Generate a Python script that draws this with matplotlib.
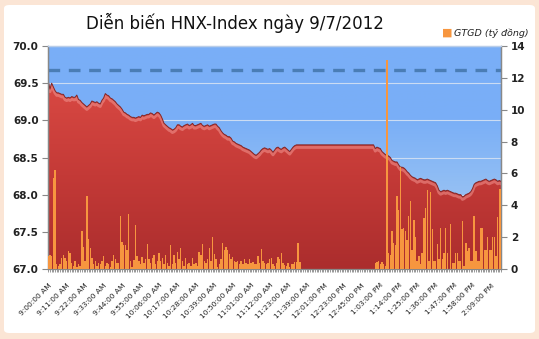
import numpy as np
import matplotlib
matplotlib.use('Agg')
import matplotlib.pyplot as plt
from matplotlib.patches import FancyBboxPatch, Polygon
from matplotlib.colors import LinearSegmentedColormap

# HNX-Index, one value per time slot (lunch break is flat)
index_vals = [
    69.52, 69.42, 69.50, 69.45, 69.40, 69.37, 69.37, 69.36, 69.35, 69.35,
    69.31, 69.30, 69.31, 69.30, 69.32, 69.31, 69.31, 69.34, 69.28, 69.27,
    69.24, 69.22, 69.20, 69.18, 69.20, 69.22, 69.26, 69.25, 69.24, 69.25,
    69.23, 69.22, 69.27, 69.30, 69.36, 69.34, 69.33, 69.30, 69.29, 69.27,
    69.25, 69.22, 69.20, 69.18, 69.15, 69.11, 69.10, 69.08, 69.07, 69.05,
    69.04, 69.04, 69.03, 69.04, 69.05, 69.04, 69.07, 69.06, 69.07, 69.08,
    69.08, 69.10, 69.09, 69.07, 69.09, 69.11, 69.10, 69.07, 69.02, 68.96,
    68.94, 68.92, 68.90, 68.89, 68.87, 68.88, 68.90, 68.94, 68.94, 68.92,
    68.91, 68.93, 68.94, 68.95, 68.93, 68.94, 68.96, 68.93, 68.93, 68.94,
    68.95, 68.96, 68.93, 68.92, 68.93, 68.94, 68.92, 68.93, 68.94, 68.95,
    68.95, 68.92, 68.90, 68.86, 68.83, 68.81, 68.80, 68.78, 68.78, 68.76,
    68.72, 68.71, 68.69, 68.68, 68.67, 68.66, 68.64, 68.63, 68.62, 68.61,
    68.60, 68.58, 68.56, 68.54, 68.53, 68.55, 68.57, 68.60, 68.62, 68.63,
    68.62, 68.61, 68.62, 68.60, 68.57, 68.60, 68.63, 68.64, 68.62, 68.61,
    68.63, 68.64, 68.62, 68.60, 68.58, 68.61, 68.64, 68.66, 68.67, 68.67,
    68.67, 68.67, 68.67, 68.67, 68.67, 68.67, 68.67, 68.67, 68.67, 68.67,
    68.67, 68.67, 68.67, 68.67, 68.67, 68.67, 68.67, 68.67, 68.67, 68.67,
    68.67, 68.67, 68.67, 68.67, 68.67, 68.67, 68.67, 68.67, 68.67, 68.67,
    68.67, 68.67, 68.67, 68.67, 68.67, 68.67, 68.67, 68.67, 68.67, 68.67,
    68.67, 68.67, 68.67, 68.67, 68.67,
    68.62, 68.64, 68.63, 68.62, 68.58, 68.56, 68.54, 68.53, 68.52, 68.50,
    68.46, 68.45, 68.44, 68.44, 68.40, 68.37, 68.37, 68.36, 68.34, 68.31,
    68.29, 68.26, 68.24, 68.23, 68.22, 68.20, 68.21, 68.22, 68.21, 68.20,
    68.20, 68.21, 68.20, 68.19, 68.18, 68.17, 68.16, 68.12, 68.06, 68.04,
    68.05, 68.06, 68.05, 68.06, 68.05, 68.04, 68.03, 68.02, 68.02, 68.01,
    68.00, 68.00, 67.97, 67.98, 68.00, 68.01, 68.02, 68.04, 68.08, 68.14,
    68.16, 68.17, 68.18, 68.18, 68.19, 68.20, 68.21, 68.19, 68.18, 68.19,
    68.20, 68.21, 68.20, 68.18, 68.19, 68.18,
]

# GTGD (ty dong) per time slot
volume = [
    0.8, 0.85, 0.8, 5.7, 6.2, 0.3, 0.2, 0.3, 0.7, 0.9,
    0.7, 0.5, 1.1, 1.0, 0.4, 0.2, 0.5, 0.1, 0.3, 0.2,
    2.4, 1.35, 0.5, 4.6, 1.9, 1.3, 0.7, 0.3, 0.5, 0.2,
    0.4, 0.3, 0.5, 0.8, 0.2, 0.4, 0.3, 0.15, 0.5, 0.9,
    0.6, 0.4, 0.4, 3.3, 1.7, 1.5, 1.5, 1.2, 3.45, 0.5,
    0.1, 0.55, 2.75, 0.8, 0.5, 0.3, 0.75, 0.4, 0.6, 1.6,
    0.6, 0.4, 0.7, 0.9, 0.3, 0.5, 1.0, 0.5, 0.7, 0.3,
    0.9, 0.4, 0.2, 1.5, 0.3, 0.9, 0.4, 1.05, 0.6, 1.3,
    0.5, 0.2, 0.7, 0.3, 0.4, 0.2, 0.7, 0.3, 0.4, 0.2,
    1.05, 0.9, 1.6, 0.5, 0.4, 0.6, 1.3, 0.5, 2.0, 0.95,
    0.6, 0.1, 0.3, 0.6, 1.65, 1.2, 1.4, 1.2, 0.95, 0.6,
    0.75, 0.5, 0.45, 0.5, 0.3, 0.5, 0.3, 0.65, 0.4, 0.3,
    0.65, 0.4, 0.45, 0.3, 0.3, 0.8, 0.4, 1.25, 0.5, 0.35,
    0.3, 0.4, 0.6, 0.7, 0.3, 0.2, 0.4, 0.75, 0.6, 1.0,
    0.35, 0.25, 0.2, 0.4, 0.1, 0.3, 0.3, 0.45, 0.45, 1.65,
    0.45,
    0, 0, 0, 0, 0, 0, 0, 0, 0, 0, 0, 0, 0, 0, 0, 0, 0, 0, 0, 0, 0, 0,
    0, 0, 0, 0, 0, 0, 0, 0, 0, 0, 0, 0, 0, 0, 0, 0, 0, 0, 0, 0, 0, 0,
    0.4, 0.45, 0.5, 0.3, 0.45, 0.3, 0.2, 13.1, 1.0, 0.9,
    2.4, 1.65, 1.5, 4.6, 3.7, 6.4, 2.5, 2.6, 2.4, 1.8,
    3.3, 4.25, 1.2, 3.1, 2.0, 0.5, 0.8, 0.3, 1.0, 3.2,
    3.85, 4.95, 0.5, 4.85, 2.5, 0.5, 0.5, 1.6, 0.6, 2.55,
    0.6, 1.0, 2.6, 1.0, 0.0, 2.8, 0.4, 0.4, 1.0, 1.0,
    0.5, 0.5, 3.0, 0.2, 1.65, 1.1, 1.3, 0.5, 0.5, 3.35,
    1.1, 0.5, 0.5, 2.55, 2.55, 1.2, 1.2, 2.0, 1.2, 1.2,
    2.0, 2.0, 0.8, 3.25, 5.0, 5.0,
]

time_labels = ["9:00:00 AM", "9:11:00 AM", "9:22:00 AM", "9:33:00 AM", "9:44:00 AM",
               "9:55:00 AM", "10:06:00 AM", "10:17:00 AM", "10:28:00 AM", "10:39:00 AM",
               "10:50:00 AM", "11:01:00 AM", "11:12:00 AM", "11:23:00 AM", "11:39:00 AM",
               "12:01:00 PM", "12:23:00 PM", "12:45:00 PM", "1:03:00 PM", "1:14:00 PM",
               "1:25:00 PM", "1:36:00 PM", "1:47:00 PM", "1:58:00 PM", "2:09:00 PM"]
label_step = 11
ref_level = 69.68
title = "Diễn biến HNX-Index ngày 9/7/2012"
legend_label = "GTGD (tỷ đồng)"

n = len(index_vals)
xs = np.arange(n)
idx = np.array(index_vals)

W, H = 539, 339
fig = plt.figure(figsize=(W / 100, H / 100), dpi=100)
fig.patch.set_facecolor('#fbe5d5')
fig.patches.append(FancyBboxPatch((4 / W, 6 / H), 531 / W, 328 / H,
                                  boxstyle="round,pad=0,rounding_size=0.01",
                                  transform=fig.transFigure, facecolor='white',
                                  edgecolor='none', zorder=-5))

ax = fig.add_axes([48.3 / W, 1 - 269 / H, (501 - 48.3) / W, (269 - 46) / H])
ax.set_xlim(0, n - 1)
ax.set_ylim(67, 70)
ax.patch.set_visible(False)

# blue plot-area gradient
blue = LinearSegmentedColormap.from_list('b', ['#c0d6ee', '#95c0f3', '#7aaff7', '#79aef7'])
grad = np.linspace(0, 1, 256).reshape(-1, 1)
ax.imshow(grad, cmap=blue, origin='lower', aspect='auto',
          extent=[0, n - 1, 67, 70], zorder=0)

ax.set_yticks(np.arange(67, 70.01, 0.5))
ax.set_axisbelow(True)
ax.yaxis.grid(True, color='#cbdcf3', lw=0.8)

# red index area with vertical gradient
red = LinearSegmentedColormap.from_list('r', ['#ab2d2d', '#c43a37', '#d94943'])
verts = list(zip(xs, idx)) + [(n - 1, 67), (0, 67)]
poly = Polygon(verts, closed=True, facecolor='none', edgecolor='none')
ax.add_patch(poly)
im = ax.imshow(grad, cmap=red, origin='lower', aspect='auto',
               extent=[0, n - 1, 67, idx.max()], zorder=1)
im.set_clip_path(poly)
ax.plot(xs, idx - 0.035, color='#f29590', lw=2.0, alpha=0.55, zorder=2)
ax.plot(xs, idx, color='#822626', lw=0.7, zorder=3)

ax.axhline(ref_level, color='#4a7db5', lw=2.4, dashes=(3.5, 2.6), zorder=4)

ax2 = ax.twinx()
ax2.set_ylim(0, 14)
ax2.set_xlim(0, n - 1)
ax2.bar(xs, volume, width=0.85, color='#f7963f', zorder=5)

tick_font = dict(fontsize=7.5, fontweight='bold', color='#222222')
ax.set_yticklabels(['%.1f' % v for v in np.arange(67, 70.01, 0.5)], **tick_font)
ax2.set_yticks(np.arange(0, 14.1, 2))
ax2.set_yticklabels([str(v) for v in range(0, 15, 2)], **tick_font)

major = np.arange(0, len(time_labels) * label_step, label_step)
ax.set_xticks(major)
ax.set_xticks(xs, minor=True)
ax.set_xticklabels(time_labels, rotation=45, ha='right', rotation_mode='anchor',
                   fontsize=5.4, color='#222222')
ax.tick_params(axis='x', which='both', length=2.5, width=0.6, color='#888888', pad=7)
ax.tick_params(axis='y', length=4, width=0.8, color='#888888', pad=3)
ax2.tick_params(axis='y', length=4, width=0.8, color='#888888', pad=3)

for a in (ax, ax2):
    for s in a.spines.values():
        s.set_color('#888888')
        s.set_linewidth(0.9)
    a.spines['top'].set_color('#b9cde8')
ax2.spines['bottom'].set_visible(False)

fig.text(235 / W, 1 - 23 / H, title, ha='center', va='center', fontsize=12, color='#111111')
fig.text(447 / W, 1 - 33 / H, '\u25a0', ha='center', va='center', fontsize=8, color='#f7963f')
fig.text(454 / W, 1 - 33 / H, legend_label, ha='left', va='center', fontsize=6.8,
         style='italic', color='#222222')

fig.savefig('out.png', dpi=100, facecolor=fig.get_facecolor())
